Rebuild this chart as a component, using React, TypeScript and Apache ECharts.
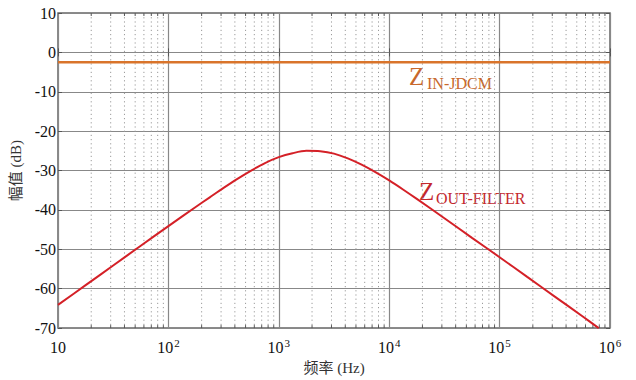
import React, { useEffect, useRef } from "react";
import * as echarts from "echarts";

// Frequency axis (Hz) and magnitude (dB)
const freqHz = [10, 17.8, 31.6, 56.2, 100, 178, 237, 316, 422, 562, 750, 1000, 1333, 1778, 2371, 3162, 4217, 5623, 7499, 10000, 13335, 17783, 31623, 56234, 100000, 177828, 316228, 562341, 790000];
const zOutFilterDb = [-64.1, -59.1, -54.1, -49.1, -44.1, -39.2, -36.8, -34.4, -32.1, -30.0, -28.1, -26.6, -25.6, -25.0, -25.1, -25.7, -26.9, -28.5, -30.4, -32.5, -34.8, -37.2, -42.1, -47.1, -52.0, -57.0, -62.0, -67.0, -70.0];
const zInJdcmFreq = [10, 1000000];
const zInJdcmDb = [-2.5, -2.5];

// Dotted minor grid positions (2..9 within each decade)
const minorFreqs: number[] = [];
[10, 100, 1000, 10000, 100000].forEach((d) => {
  for (let k = 2; k <= 9; k++) minorFreqs.push(d * k);
});

const yMin = -70;
const yMax = 10;

const SERIF = "'Liberation Serif', 'Times New Roman', serif";
const CJK = "'Liberation Serif', 'Noto Sans CJK SC', serif";

export default function App() {
  const ref = useRef<HTMLDivElement>(null);

  useEffect(() => {
    if (!ref.current) return;
    const chart = echarts.init(ref.current, undefined, { renderer: "svg" });

    const supLabel = (v: number) => {
      const e = Math.round(Math.log10(v));
      return e === 1 ? "{b|10}" : `{b|10}{s|${e}}`;
    };

    chart.setOption({
      animation: false,
      backgroundColor: "#ffffff",
      grid: {
        left: 58,
        right: 26,
        top: 13,
        bottom: 49,
        show: true,
        borderColor: "#666666",
        borderWidth: 1.5,
        backgroundColor: "transparent",
      },
      xAxis: [
        {
          type: "log",
          logBase: 10,
          min: 10,
          max: 1000000,
          name: "频率 (Hz)",
          nameLocation: "middle",
          nameGap: 27,
          nameTextStyle: { fontFamily: CJK, fontSize: 15, color: "#333" },
          axisLine: { show: false },
          axisTick: { show: true, inside: true, length: 4, lineStyle: { color: "#555" } },
          splitLine: { show: true, lineStyle: { color: "#888888", width: 1.2 } },
          axisLabel: {
            margin: 9,
            formatter: supLabel,
            rich: {
              b: { fontFamily: SERIF, fontSize: 16, color: "#111", lineHeight: 18, verticalAlign: "bottom" },
              s: { fontFamily: SERIF, fontSize: 11, color: "#111", lineHeight: 18, verticalAlign: "top", padding: [0, 0, 0, 1] },
            },
          },
        },
        {
          type: "log",
          logBase: 10,
          min: 10,
          max: 1000000,
          position: "top",
          axisLine: { show: false },
          axisTick: { show: true, inside: true, length: 4, lineStyle: { color: "#555" } },
          axisLabel: { show: false },
          splitLine: { show: false },
        },
      ],
      yAxis: [
        {
          type: "value",
          min: yMin,
          max: yMax,
          interval: 10,
          name: "幅值 (dB)",
          nameLocation: "middle",
          nameGap: 35,
          nameTextStyle: { fontFamily: CJK, fontSize: 15, color: "#333" },
          axisLine: { show: false },
          axisTick: { show: true, inside: true, length: 4, lineStyle: { color: "#555" } },
          splitLine: { show: true, lineStyle: { color: "#888888", width: 1.2 } },
          axisLabel: { margin: 2, fontFamily: SERIF, fontSize: 16, color: "#111" },
        },
        {
          type: "value",
          min: yMin,
          max: yMax,
          interval: 10,
          position: "right",
          axisLine: { show: false },
          axisTick: { show: true, inside: true, length: 4, lineStyle: { color: "#555" } },
          axisLabel: { show: false },
          splitLine: { show: false },
        },
      ],
      series: [
        {
          type: "custom",
          z: 1,
          silent: true,
          clip: false,
          data: minorFreqs.map((f) => [f, yMin]),
          renderItem: (_params: any, api: any) => {
            const f = api.value(0);
            const top = api.coord([f, yMax]);
            const bot = api.coord([f, yMin]);
            return {
              type: "group",
              children: [
                {
                  type: "line",
                  shape: { x1: top[0], y1: top[1], x2: bot[0], y2: bot[1] },
                  style: { stroke: "#9a9a9a", lineWidth: 1, lineDash: [1.2, 3] },
                },
                {
                  type: "line",
                  shape: { x1: bot[0], y1: bot[1], x2: bot[0], y2: bot[1] - 3 },
                  style: { stroke: "#555", lineWidth: 1 },
                },
                {
                  type: "line",
                  shape: { x1: top[0], y1: top[1], x2: top[0], y2: top[1] + 3 },
                  style: { stroke: "#555", lineWidth: 1 },
                },
              ],
            };
          },
        },
        {
          name: "Z_IN-JDCM",
          type: "line",
          z: 5,
          showSymbol: false,
          data: zInJdcmFreq.map((f, i) => [f, zInJdcmDb[i]]),
          lineStyle: { color: "#D9742B", width: 2.5 },
        },
        {
          name: "Z_OUT-FILTER",
          type: "line",
          z: 5,
          showSymbol: false,
          smooth: 0.3,
          data: freqHz.map((f, i) => [f, zOutFilterDb[i]]),
          lineStyle: { color: "#D42027", width: 2 },
        },
      ],
      graphic: [
        { type: "text", left: 409, top: 64, style: { text: "Z", fontFamily: SERIF, fontSize: 25, fill: "#C8682C" } },
        { type: "text", left: 427, top: 75, style: { text: "IN-JDCM", fontFamily: SERIF, fontSize: 16, fill: "#C8682C" } },
        { type: "text", left: 419, top: 179, style: { text: "Z", fontFamily: SERIF, fontSize: 25, fill: "#C4282D" } },
        { type: "text", left: 436, top: 190, style: { text: "OUT-FILTER", fontFamily: SERIF, fontSize: 16, fill: "#C4282D" } },
      ],
    });

    return () => chart.dispose();
  }, []);

  return <div ref={ref} style={{ position: "fixed", left: 0, top: 0, width: 636, height: 380 }} />;
}
